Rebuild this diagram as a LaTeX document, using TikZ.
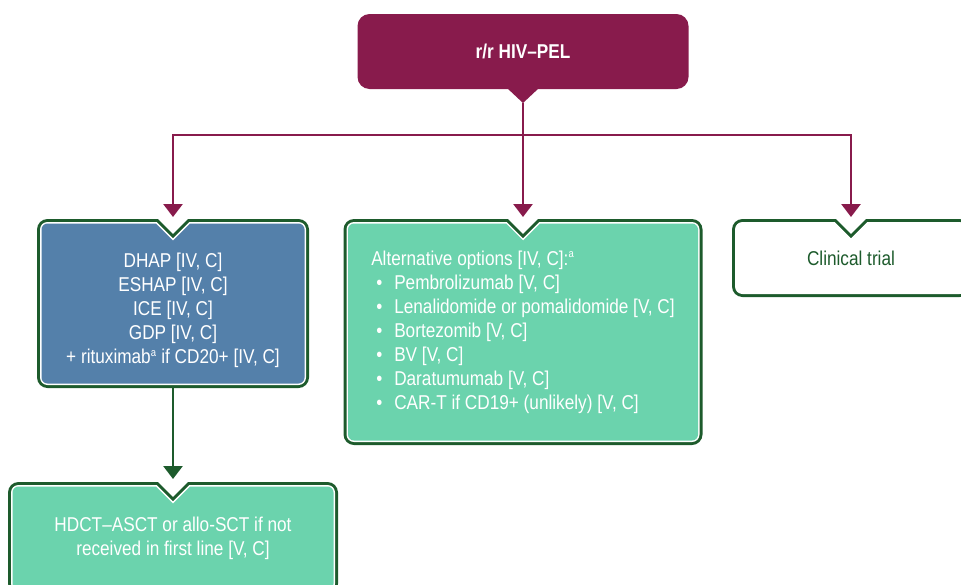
\documentclass[tikz,border=0pt]{standalone}
\usepackage{fontspec}
\setmainfont{Liberation Sans}[FakeStretch=0.86]
\usepackage{tikz}
\usetikzlibrary{arrows.meta}

\definecolor{plum}{HTML}{881B4C}
\definecolor{steel}{HTML}{5480AA}
\definecolor{mint}{HTML}{6BD3AD}
\definecolor{pine}{HTML}{1D5B2C}
\pgfdeclarelayer{back}
\pgfsetlayers{back,main}

% box with a notch at the top, grown outwards by #2
\newcommand\notchbox[3]{%
  \fill[#3]
    ([shift={(-17+0.414*#2,#2)}]#1.north)
    -- ([shift={(0,-17+1.414*#2)}]#1.north)
    -- ([shift={(17-0.414*#2,#2)}]#1.north)
    -- ([shift={(-6,#2)}]#1.north east) arc[start angle=90,end angle=0,radius=6+#2]
    -- ([shift={(#2,6)}]#1.south east) arc[start angle=0,end angle=-90,radius=6+#2]
    -- ([shift={(6,-#2)}]#1.south west) arc[start angle=-90,end angle=-180,radius=6+#2]
    -- ([shift={(-#2,-6)}]#1.north west) arc[start angle=180,end angle=90,radius=6+#2]
    -- cycle;}
\newcommand\bitem{\hspace*{5pt}\makebox[18pt][l]{\textbullet}}
\newcommand\fn[1]{\textsuperscript{\fontsize{11}{11}\selectfont #1}}

\begin{document}
\begin{tikzpicture}[x=1pt,y=1pt,
  every node/.style={font=\fontsize{20}{24}\selectfont, inner sep=0pt, outer sep=0pt},
  panel/.style={minimum width=#1},
  txt/.style={text=white},
  link/.style={plum, line width=2.8pt, -{Triangle[width=19pt,length=13pt]}, shorten >=6.5pt}]
  \useasboundingbox (0,0) rectangle (961,-584);
  \clip (0,0) rectangle (961,-584);

  \node[fill=plum, rounded corners=12pt, minimum width=331pt, minimum height=75pt,
        text=white, font=\fontsize{20}{24}\selectfont\bfseries] (relapse) at (523,-51.5) {r/r HIV–PEL};
  \coordinate (tip) at ([yshift=-14pt]relapse.south);
  \fill[plum] ([xshift=-16pt,yshift=1pt]relapse.south) -- (tip) -- ([xshift=16pt,yshift=1pt]relapse.south) -- cycle;
  \coordinate (split) at (523,-135);

  \node[panel=263pt, minimum height=160pt] (salvage) at (173,-303.5) {};
  \node[txt, align=center] at ([yshift=-7pt]salvage.center)
    {DHAP [IV, C]\\ESHAP [IV, C]\\ICE [IV, C]\\GDP [IV, C]\\+ rituximab\fn{a} if CD20+ [IV, C]};
  \node[panel=350pt, minimum height=217pt, txt, align=left] (alt) at (523,-332)
    {Alternative options [IV, C]:\fn{a}\\
     \bitem Pembrolizumab [V, C]\\
     \bitem Lenalidomide or pomalidomide [V, C]\\
     \bitem Bortezomib [V, C]\\
     \bitem BV [V, C]\\
     \bitem Daratumumab [V, C]\\
     \bitem CAR-T if CD19+ (unlikely) [V, C]};
  \node[panel=229pt, minimum height=69pt, text=pine] (trial) at (851,-258) {Clinical trial};
  \node[panel=321pt, minimum height=103pt, txt, align=center] (hdct) at (173,-538)
    {HDCT–ASCT or allo-SCT if not\\received in first line [V, C]};

  \begin{pgfonlayer}{back}
    \clip (0,0) rectangle (961,-584);
    \foreach \n/\c in {salvage/steel, alt/mint, trial/white, hdct/mint} {
      \notchbox{\n}{4.5}{pine}
      \notchbox{\n}{1.5}{white}
      \notchbox{\n}{0}{\c}
    }
  \end{pgfonlayer}

  \draw[link] (tip) -- (split) -| (salvage.north);
  \draw[link] (tip) -- (alt.north);
  \draw[link] (tip) -- (split) -| (trial.north);
  \draw[link, pine, shorten <=4.5pt, shorten >=7.5pt] (salvage.south) -- (hdct.north);
\end{tikzpicture}
\end{document}
